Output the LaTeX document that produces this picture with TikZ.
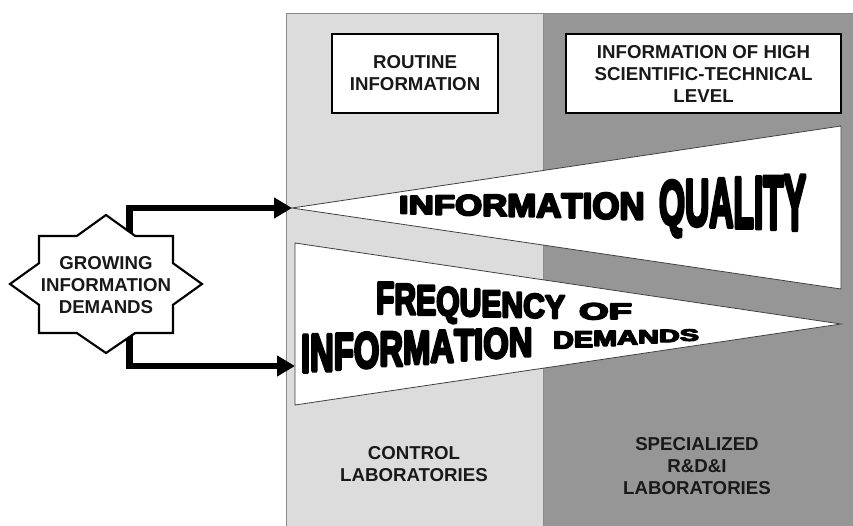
\documentclass[tikz,border=0pt]{standalone}
\usepackage{fontspec}
\setmainfont{Liberation Sans}
\newfontfamily\wafont{Liberation Sans Bold}[FakeBold=6.5]
\usepackage{graphicx}
\usetikzlibrary{arrows.meta}
\definecolor{lightpanel}{HTML}{DCDCDC}
\definecolor{darkpanel}{HTML}{969696}
\definecolor{panelline}{HTML}{8A8A8A}
\tikzset{
  panel/.style={draw=panelline, line width=0.6pt},
  labelbox/.style={draw=black, line width=1.6pt, fill=white},
  pennant/.style={draw=black!75, line width=0.6pt, fill=white},
  lbl/.style={font=\fontsize{14}{16.5}\selectfont\bfseries, align=center, inner sep=0pt, text=black!90},
  arr/.style={line width=4.6pt, line join=miter, -{Triangle[length=13.5pt,width=15pt]}},
  starshape/.style={draw=black, line width=1.6pt, fill=white, line join=miter},
  wordart/.style={line join=round, miter limit=1}
}
\newsavebox\wabox
\newcommand\wameasure[1]{%
  \pgfinterruptpicture
  \global\setbox\wabox\hbox{\fontsize{10}{12}\selectfont\wafont #1}%
  \endpgfinterruptpicture}
% perspective (WordArt-like) word: letters, word, x0, x1, h0, h1, cy0, cy1
\newcommand\waword[8]{%
  \wameasure{#2}%
  \pgfmathsetmacro\wasx{(#4-#3)*0.75/\the\wd\wabox}%
  \xdef\wacur{#3}%
  \foreach \wac in {#1}{%
    \wameasure{\wac}%
    \pgfmathsetmacro\waadv{\the\wd\wabox*\wasx/0.75}%
    \pgfmathsetmacro\wamid{\wacur+\waadv/2}%
    \pgfmathsetmacro\wat{(\wamid-#3)/(#4-#3)}%
    \pgfmathsetmacro\wah{#5+(#6-#5)*\wat}%
    \pgfmathsetmacro\wacy{#7+(#8-#7)*\wat}%
    \pgfmathsetmacro\wasy{\wah*0.75/7.2}%
    \node[inner sep=0pt, anchor=base] at (\wamid,\wacy+\wah/2)
      {\scalebox{\wasx}[\wasy]{\fontsize{10}{12}\selectfont\wafont\wac}};
    \pgfmathsetmacro\wanext{\wacur+\waadv}%
    \xdef\wacur{\wanext}%
  }%
}
\begin{document}
\begin{tikzpicture}[x=0.75pt,y=-0.75pt]
\useasboundingbox (0,0) rectangle (853,525);
% panels
\fill[white] (0,0) rectangle (853,525);
\draw[panel, fill=lightpanel] (286,13) rectangle (543,530);
\draw[panel, fill=darkpanel] (543,13) rectangle (858,530);
% top boxes
\node[labelbox, minimum width=166*0.75pt, minimum height=79*0.75pt, anchor=north west, inner sep=0pt] (routine) at (331,33) {};
\node[lbl] (routinet) at (routine.center) {ROUTINE\\INFORMATION};
\node[labelbox, minimum width=275*0.75pt, minimum height=79*0.75pt, anchor=north west, inner sep=0pt] (high) at (565,33) {};
\node[lbl] (hight) at (high.center) {INFORMATION OF HIGH\\SCIENTIFIC-TECHNICAL\\LEVEL};
% pennants
\coordinate (qtip) at (292,208);
\coordinate (qtr) at (841,126);
\coordinate (qbr) at (841,289);
\draw[pennant] (qtip) -- (qtr) -- (qbr) -- cycle;
\coordinate (ftl) at (295,243);
\coordinate (fbl) at (295,405);
\coordinate (ftip) at (841,324);
\draw[pennant] (ftl) -- (ftip) -- (fbl) -- cycle;
\coordinate (fin) at (295,366);
% WordArt texts
\begin{scope}[wordart]
\waword{I,N,F,O,R,M,A,T,I,O,N}{INFORMATION}{399}{642}{18}{28}{204.5}{205.5}
\waword{Q,U,A,L,I,T,Y}{QUALITY}{659}{806}{44}{57}{202}{201.5}
\waword{F,R,E,Q,U,E,N,C,Y}{FREQUENCY}{376}{565}{33}{23}{297}{307}
\waword{O,F}{OF}{579}{632}{17}{16}{311}{311}
\waword{I,N,F,O,R,M,A,T,I,O,N}{INFORMATION}{301}{530}{39}{29}{353}{341}
\waword{D,E,M,A,N,D,S}{DEMANDS}{553}{699}{18}{11.5}{340}{334.5}
\end{scope}
% bottom labels
\node[lbl] (control) at (414,464) {CONTROL\\LABORATORIES};
\node[lbl] (special) at (697,466) {SPECIALIZED\\R\&D\&I\\LABORATORIES};
% connectors
\coordinate (s1) at (129.5,240);
\coordinate (s2) at (129.5,330);
\draw[arr] (s1) |- (qtip);
\draw[arr] (s2) |- (fin);
% star
\draw[starshape] (106,215) -- (135.2,236) -- (173,236) -- (173,263.2) -- (202,284)
  -- (173,304.8) -- (173,333) -- (135.2,333) -- (106,353) -- (76.8,333) -- (39,333)
  -- (39,304.8) -- (10,284) -- (39,263.2) -- (39,236) -- (76.8,236) -- cycle;
\node[lbl, font=\fontsize{14}{16.3}\selectfont\bfseries] (grow) at (106,285) {GROWING\\INFORMATION\\DEMANDS};
\end{tikzpicture}
\end{document}
